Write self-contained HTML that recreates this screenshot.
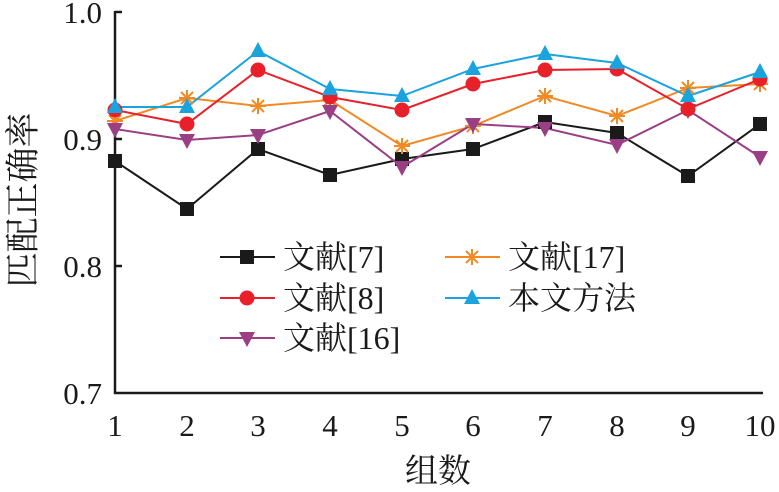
<!DOCTYPE html>
<html><head><meta charset="utf-8"><style>html,body{margin:0;padding:0;background:#fff;}svg{display:block;}</style></head><body>
<svg width="779" height="492" xmlns="http://www.w3.org/2000/svg" font-family="'Liberation Serif','Noto Serif CJK SC',serif">
<defs>
<rect id="sq" x="-7" y="-7" width="14" height="14" fill="#1a1a1a"/>
<circle id="ci" r="7.5" fill="#e8202a"/>
<path id="tu" d="M0,-9 L8,6 L-8,6Z" fill="#1aa3dd"/>
<path id="td" d="M0,9 L8,-6 L-8,-6Z" fill="#9b3f85"/>
<g id="st" stroke="#f08a24" stroke-width="2"><line x1="-8" y1="0" x2="8" y2="0"/><line x1="0" y1="-8" x2="0" y2="8"/><line x1="-6" y1="-6" x2="6" y2="6"/><line x1="-6" y1="6" x2="6" y2="-6"/></g>
</defs>
<g stroke="#1a1a1a" stroke-width="2.5" fill="none">
<line x1="115" y1="11" x2="115" y2="394"/>
<line x1="114" y1="393" x2="763" y2="393"/>
<line x1="115" y1="12" x2="122" y2="12"/>
<line x1="115" y1="139" x2="122" y2="139"/>
<line x1="115" y1="266" x2="122" y2="266"/>
</g>
<g font-size="31" fill="#1a1a1a" text-anchor="end">
<text x="102" y="23">1.0</text><text x="102" y="150">0.9</text><text x="102" y="277">0.8</text><text x="102" y="404">0.7</text>
</g>
<g font-size="31" fill="#1a1a1a" text-anchor="middle">
<text x="115" y="436">1</text><text x="187" y="436">2</text><text x="258" y="436">3</text><text x="330" y="436">4</text><text x="402" y="436">5</text><text x="473" y="436">6</text><text x="545" y="436">7</text><text x="617" y="436">8</text><text x="688" y="436">9</text><text x="760" y="436">10</text>
<text x="438" y="482" font-size="33">组数</text>
<text transform="translate(35,200) rotate(-90)" font-size="35">匹配正确率</text>
</g>
<g fill="none" stroke-width="2">
<polyline stroke="#1a1a1a" points="115,161 187,209 258,149 330,175 402,159 473,149 545,122 617,133 688,176 760,124"/>
<polyline stroke="#f08a24" points="115,121 187,98 258,106 330,100 402,146 473,126 545,96 617,116 688,88 760,84"/>
<polyline stroke="#9b3f85" points="115,129 187,140 258,135 330,111 402,167 473,124 545,128 617,145 688,110 760,157"/>
<polyline stroke="#e8202a" points="115,110 187,124 258,70 330,97 402,110 473,84 545,70 617,69 688,109 760,79"/>
<polyline stroke="#1aa3dd" points="115,107 187,107 258,51 330,89 402,96 473,69 545,54 617,63 688,96 760,72"/>
</g>
<g>
<use href="#sq" x="115" y="161"/><use href="#sq" x="187" y="209"/><use href="#sq" x="258" y="149"/><use href="#sq" x="330" y="175"/><use href="#sq" x="402" y="159"/><use href="#sq" x="473" y="149"/><use href="#sq" x="545" y="122"/><use href="#sq" x="617" y="133"/><use href="#sq" x="688" y="176"/><use href="#sq" x="760" y="124"/>
<use href="#st" x="115" y="121"/><use href="#st" x="187" y="98"/><use href="#st" x="258" y="106"/><use href="#st" x="330" y="100"/><use href="#st" x="402" y="146"/><use href="#st" x="473" y="126"/><use href="#st" x="545" y="96"/><use href="#st" x="617" y="116"/><use href="#st" x="688" y="88"/><use href="#st" x="760" y="84"/>
<use href="#td" x="115" y="129"/><use href="#td" x="187" y="140"/><use href="#td" x="258" y="135"/><use href="#td" x="330" y="111"/><use href="#td" x="402" y="167"/><use href="#td" x="473" y="124"/><use href="#td" x="545" y="128"/><use href="#td" x="617" y="145"/><use href="#td" x="688" y="110"/><use href="#td" x="760" y="157"/>
<use href="#ci" x="115" y="110"/><use href="#ci" x="187" y="124"/><use href="#ci" x="258" y="70"/><use href="#ci" x="330" y="97"/><use href="#ci" x="402" y="110"/><use href="#ci" x="473" y="84"/><use href="#ci" x="545" y="70"/><use href="#ci" x="617" y="69"/><use href="#ci" x="688" y="109"/><use href="#ci" x="760" y="79"/>
<use href="#tu" x="115" y="107"/><use href="#tu" x="187" y="107"/><use href="#tu" x="258" y="51"/><use href="#tu" x="330" y="89"/><use href="#tu" x="402" y="96"/><use href="#tu" x="473" y="69"/><use href="#tu" x="545" y="54"/><use href="#tu" x="617" y="63"/><use href="#tu" x="688" y="96"/><use href="#tu" x="760" y="72"/>
</g>
<g stroke-width="2">
<line x1="220" y1="257" x2="275" y2="257" stroke="#1a1a1a"/><use href="#sq" x="247" y="257"/>
<line x1="220" y1="298" x2="275" y2="298" stroke="#e8202a"/><use href="#ci" x="247" y="298"/>
<line x1="220" y1="338" x2="275" y2="338" stroke="#9b3f85"/><use href="#td" x="247" y="338"/>
<line x1="445" y1="257" x2="500" y2="257" stroke="#f08a24"/><use href="#st" x="472" y="257"/>
<line x1="445" y1="298" x2="500" y2="298" stroke="#1aa3dd"/><use href="#tu" x="472" y="298"/>
</g>
<g font-size="32" fill="#1a1a1a">
<text x="283" y="268">文献[7]</text>
<text x="283" y="309">文献[8]</text>
<text x="283" y="349">文献[16]</text>
<text x="508" y="268">文献[17]</text>
<text x="508" y="309">本文方法</text>
</g>
</svg>
</body></html>
